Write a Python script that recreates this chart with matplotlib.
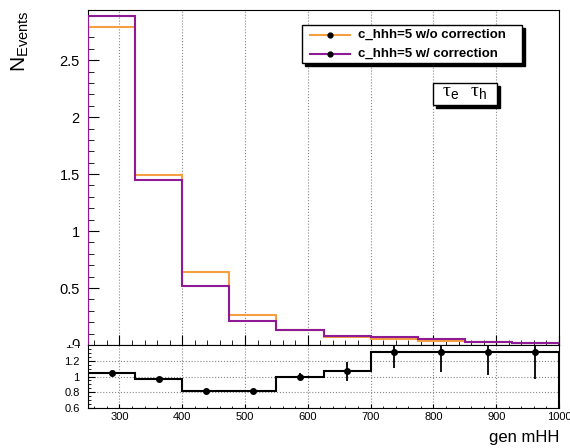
import matplotlib
matplotlib.use('Agg')
import matplotlib.pyplot as plt
from matplotlib.patches import Rectangle
from matplotlib.lines import Line2D
from matplotlib.ticker import MultipleLocator
from matplotlib.transforms import Bbox, TransformedBbox
import numpy as np

plt.rcParams['font.family'] = ['Liberation Sans', 'DejaVu Sans']
plt.rcParams['mathtext.fontset'] = 'custom'
plt.rcParams['mathtext.rm'] = 'Liberation Serif'
plt.rcParams['mathtext.sf'] = 'Liberation Sans'

#------------------------------------- DATOS ------------------------------------
edges = [250, 325, 400, 475, 550, 625, 700, 775, 850, 925, 1000]
sin_corr = [2.79, 1.49, 0.64, 0.26, 0.135, 0.072, 0.051, 0.038, 0.023, 0.015]
con_corr = [2.89, 1.45, 0.52, 0.21, 0.134, 0.076, 0.067, 0.050, 0.030, 0.020]
ratio = [1.04, 0.97, 0.82, 0.82, 1.00, 1.065, 1.31, 1.31, 1.31, 1.31]
ratio_err = [0.01, 0.01, 0.01, 0.025, 0.05, 0.12, 0.2, 0.25, 0.29, 0.34]
etiquetas = ['c_hhh=5 w/o correction', 'c_hhh=5 w/ correction']
yticks_sup = [0.5, 1, 1.5, 2, 2.5]
yticks_inf = [0.6, 0.8, 1, 1.2]

naranja = '#f59e42'
morado = '#8f1a96'

W, H = 570, 448
def fx(px): return px / W
def fy(py): return (H - py) / H

def fmt(v): return ('%g' % v)

fig = plt.figure(figsize=(5.7, 4.48), dpi=100)
ax = fig.add_axes([fx(88), fy(345), fx(559) - fx(88), fy(10) - fy(345)])
axr = fig.add_axes([fx(88), fy(408), fx(559) - fx(88), fy(345) - fy(408)])

# Panel superior
ax.stairs(sin_corr, edges, color=naranja, lw=1.5, zorder=3)
ax.stairs(con_corr, edges, color=morado, lw=1.5, zorder=4)
ax.set_xlim(250, 1000)
ax.set_ylim(0, 2.94)
ax.xaxis.set_major_locator(MultipleLocator(100))
ax.xaxis.set_minor_locator(MultipleLocator(20))
ax.set_yticks(yticks_sup)
ax.set_yticklabels([fmt(v) for v in yticks_sup])
ax.yaxis.set_minor_locator(MultipleLocator(0.1))
ax.set_xticklabels([])
ax.tick_params(which='both', direction='in', top=False, right=False)
ax.tick_params(axis='y', which='major', length=8, labelsize=10.5, pad=6)
ax.tick_params(axis='y', which='minor', length=4)
ax.tick_params(axis='x', which='major', length=7)
ax.tick_params(axis='x', which='minor', length=3.5)
ax.grid(axis='x', which='major', ls=':', color='#888888', lw=0.8)
ax.set_axisbelow(True)

# Leyenda
ax.add_patch(Rectangle((0.461, 0.834), 0.467, 0.113, transform=ax.transAxes,
                       facecolor='black', edgecolor='black', zorder=5))
ax.add_patch(Rectangle((0.455, 0.842), 0.467, 0.113, transform=ax.transAxes,
                       facecolor='white', edgecolor='black', lw=1, zorder=6))
for i, (lab, col) in enumerate(zip(etiquetas, [naranja, morado])):
    yy = 0.926 - i * 0.056
    ax.add_line(Line2D([0.471, 0.556], [yy, yy], transform=ax.transAxes,
                       color=col, lw=1.5, zorder=7))
    ax.plot([0.5135], [yy], 'o', color='black', ms=3.5, transform=ax.transAxes, zorder=8)
    ax.text(0.574, yy, lab, transform=ax.transAxes, fontsize=9.5, fontweight='bold',
            va='center', ha='left', zorder=8)

# Caja tau
ax.add_patch(Rectangle((0.739, 0.708), 0.136, 0.066, transform=ax.transAxes,
                       facecolor='black', edgecolor='black', zorder=5))
ax.add_patch(Rectangle((0.733, 0.716), 0.136, 0.066, transform=ax.transAxes,
                       facecolor='white', edgecolor='black', lw=1, zorder=6))
ax.text(0.801, 0.752, r'$\mathrm{\tau}_{\mathsf{e}}\ \ \mathrm{\tau}_{\mathsf{h}}$',
        transform=ax.transAxes, fontsize=14, ha='center', va='center', zorder=8)

# Panel inferior (ratio)
centros = 0.5 * (np.array(edges[:-1]) + np.array(edges[1:]))
axr.stairs(ratio, edges, color='black', lw=1.5, zorder=3)
axr.errorbar(centros, ratio, yerr=ratio_err, fmt='o', color='black', ms=4,
             elinewidth=1.3, capsize=0, zorder=4)
axr.set_xlim(250, 1000)
axr.set_ylim(0.6, 1.4)
axr.set_yticks(yticks_inf)
axr.set_yticklabels([fmt(v) for v in yticks_inf])
axr.yaxis.set_minor_locator(MultipleLocator(0.05))
axr.xaxis.set_major_locator(MultipleLocator(100))
axr.xaxis.set_minor_locator(MultipleLocator(20))
axr.tick_params(which='both', direction='in', top=False, right=False, labelsize=8)
axr.tick_params(axis='y', which='major', length=5, pad=6)
axr.tick_params(axis='y', which='minor', length=2.5)
axr.tick_params(axis='x', which='major', length=3, pad=3)
axr.tick_params(axis='x', which='minor', length=1.5)
axr.grid(which='major', ls=':', color='#888888', lw=0.8)
axr.set_axisbelow(True)

# Etiquetas cortadas en la union de paneles
t0 = fig.text(fx(80), fy(345), '0', fontsize=10.5, ha='right', va='center')
t0.set_clip_box(TransformedBbox(Bbox([[0, fy(345)], [0.16, 1]]), fig.transFigure))
t0.set_clip_on(True)
t1 = fig.text(fx(80), fy(345), '1.4', fontsize=8, ha='right', va='center')
t1.set_clip_box(TransformedBbox(Bbox([[0, 0], [0.16, fy(345)]]), fig.transFigure))
t1.set_clip_on(True)

# Titulos de ejes
fig.text(0.035, fy(10), r'$\mathregular{N_{Events}}$', fontsize=15, rotation=90,
         ha='center', va='top')
fig.text(fx(559), fy(442), 'gen mHH', fontsize=12, ha='right', va='baseline')

fig.savefig('out.png', dpi=100)
